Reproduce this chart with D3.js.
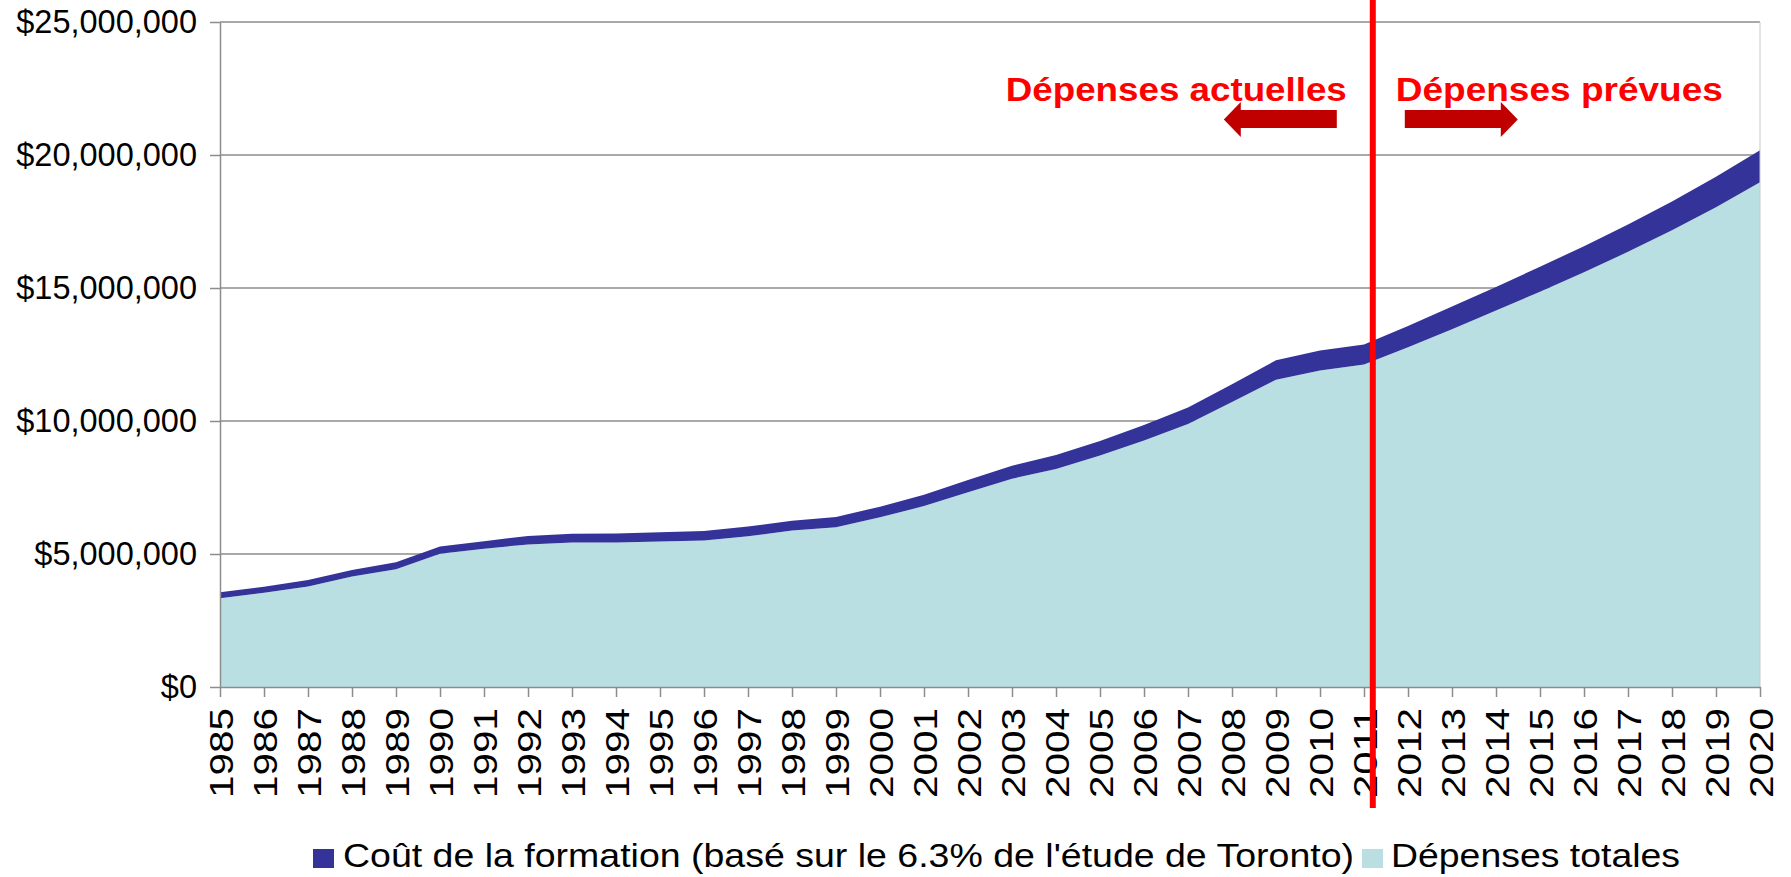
<!DOCTYPE html>
<html>
<head>
<meta charset="utf-8">
<script src="https://cdn.jsdelivr.net/npm/d3@7"></script>
<style>
  body { margin: 0; background: #fff; }
  svg { display: block; font-family: "Liberation Sans", Arial, sans-serif; }
</style>
</head>
<body>
<div id="chart"></div>
<script>
const annees = [1985, 1986, 1987, 1988, 1989, 1990, 1991, 1992, 1993, 1994, 1995, 1996,
  1997, 1998, 1999, 2000, 2001, 2002, 2003, 2004, 2005, 2006, 2007, 2008, 2009, 2010,
  2011, 2012, 2013, 2014, 2015, 2016, 2017, 2018, 2019, 2020];

const depensesTotales = [3340000, 3540000, 3780000, 4150000, 4430000, 5010000, 5200000,
  5360000, 5430000, 5430000, 5470000, 5510000, 5670000, 5880000, 6010000, 6380000,
  6800000, 7320000, 7830000, 8200000, 8700000, 9270000, 9890000, 10710000, 11550000,
  11900000, 12120000, 12770000, 13450000, 14150000, 14860000, 15590000, 16360000,
  17170000, 18040000, 18980000];

const coutFormation = [220000, 230000, 240000, 250000, 260000, 270000, 280000, 320000,
  330000, 340000, 350000, 350000, 360000, 370000, 380000, 400000, 430000, 460000,
  490000, 520000, 550000, 580000, 620000, 670000, 730000, 750000, 760000, 800000,
  850000, 890000, 940000, 980000, 1030000, 1080000, 1140000, 1200000];

const yTicks = [0, 5000000, 10000000, 15000000, 20000000, 25000000];

const series = ["Coût de la formation (basé sur le 6.3% de l'étude de Toronto)", "Dépenses totales"];
const annotations = ["Dépenses actuelles", "Dépenses prévues"];
const anneeCoupure = 2011.2;

var W = 1791, H = 877;
var margin = { left: 220, right: 1760, top: 22, bottom: 687 };

const data = annees.map((a, i) => ({
  annee: a,
  total: depensesTotales[i],
  cout: coutFormation[i]
}));

var x = d3.scaleLinear().domain([1985, 2020]).range([margin.left, margin.right]);
var y = d3.scaleLinear().domain([0, 25000000]).range([margin.bottom, margin.top]);

var svg = d3.select("#chart").append("svg")
  .attr("width", W)
  .attr("height", H);

// grid
svg.append("g")
  .selectAll("line")
  .data(yTicks.filter((d) => d > 0))
  .enter()
  .append("line")
  .attr("x1", margin.left)
  .attr("x2", margin.right)
  .attr("y1", (d) => y(d))
  .attr("y2", (d) => y(d))
  .attr("stroke", "#8c8c8c")
  .attr("stroke-width", 1.5);

// areas
var areaTotal = d3.area()
  .x((d) => x(d.annee))
  .y0(y(0))
  .y1((d) => y(d.total));

var areaCout = d3.area()
  .x((d) => x(d.annee))
  .y0((d) => y(d.total))
  .y1((d) => y(d.total + d.cout));

svg.append("path")
  .datum(data)
  .attr("fill", "#badfe3")
  .attr("d", areaTotal);

svg.append("path")
  .datum(data)
  .attr("fill", "#343399")
  .attr("d", areaCout);

// right border
svg.append("line")
  .attr("x1", margin.right).attr("x2", margin.right)
  .attr("y1", margin.top).attr("y2", margin.bottom)
  .attr("stroke", "#c8c8c8")
  .attr("stroke-width", 1);

// y axis
var yAxis = svg.append("g")
  .attr("transform", `translate(${margin.left},0)`)
  .call(d3.axisLeft(y).tickValues(yTicks).tickFormat(d3.format("$,.0f")).tickSizeInner(10).tickSizeOuter(0).tickPadding(13));
yAxis.select(".domain").attr("stroke", "#8c8c8c").attr("stroke-width", 1.5);
yAxis.selectAll(".tick line").attr("stroke", "#8c8c8c").attr("stroke-width", 1.5);
yAxis.selectAll("text")
  .attr("fill", "#000")
  .style("font-size", "32.5px")
  .style("font-family", "'Liberation Sans', Arial, sans-serif");

// x axis
var xAxis = svg.append("g")
  .attr("transform", `translate(0,${margin.bottom})`)
  .call(d3.axisBottom(x).tickValues(annees).tickFormat(d3.format("d")).tickSizeInner(10).tickSizeOuter(0));
xAxis.select(".domain").attr("stroke", "#8c8c8c").attr("stroke-width", 1.5);
xAxis.selectAll(".tick line").attr("stroke", "#8c8c8c").attr("stroke-width", 1.5);
xAxis.selectAll("text")
  .attr("fill", "#000")
  .attr("transform", "rotate(-90)")
  .attr("x", -21)
  .attr("y", 0)
  .attr("dy", "0.36em")
  .attr("textLength", 90)
  .attr("lengthAdjust", "spacingAndGlyphs")
  .style("text-anchor", "end")
  .style("font-size", "34px")
  .style("font-family", "'Liberation Sans', Arial, sans-serif");

// red separator
var xc = x(anneeCoupure);
svg.append("line")
  .attr("x1", xc).attr("x2", xc)
  .attr("y1", 0).attr("y2", 808)
  .attr("stroke", "#ff0000")
  .attr("stroke-width", 6);

// annotations
svg.append("text")
  .attr("x", xc - 26)
  .attr("y", 101)
  .attr("text-anchor", "end")
  .attr("fill", "#ff0000")
  .attr("font-weight", "bold")
  .attr("textLength", 341)
  .attr("lengthAdjust", "spacingAndGlyphs")
  .style("font-size", "33px")
  .text(annotations[0]);

svg.append("text")
  .attr("x", xc + 23)
  .attr("y", 101)
  .attr("text-anchor", "start")
  .attr("fill", "#ff0000")
  .attr("font-weight", "bold")
  .attr("textLength", 327)
  .attr("lengthAdjust", "spacingAndGlyphs")
  .style("font-size", "33px")
  .text(annotations[1]);

// arrows
function arrow(x0, dir) {
  // x0: base of shaft, dir: -1 left, +1 right
  var shaft = 96, head = 17;
  var pts = [
    [x0, 110], [x0 + dir * shaft, 110], [x0 + dir * shaft, 102],
    [x0 + dir * (shaft + head), 119.5],
    [x0 + dir * shaft, 137], [x0 + dir * shaft, 128], [x0, 128]
  ];
  svg.append("path")
    .attr("d", d3.line()(pts) + "Z")
    .attr("fill", "#c00000");
}
arrow(xc - 36, -1);
arrow(xc + 32, 1);

// legend
var legend = svg.append("g");
legend.append("rect")
  .attr("x", 313).attr("y", 849)
  .attr("width", 21).attr("height", 19)
  .attr("fill", "#343399");
legend.append("text")
  .attr("x", 343).attr("y", 867)
  .attr("textLength", 1011)
  .attr("lengthAdjust", "spacingAndGlyphs")
  .style("font-size", "34px")
  .text(series[0]);
legend.append("rect")
  .attr("x", 1362).attr("y", 849)
  .attr("width", 21).attr("height", 19)
  .attr("fill", "#badfe3");
legend.append("text")
  .attr("x", 1391).attr("y", 867)
  .attr("textLength", 289)
  .attr("lengthAdjust", "spacingAndGlyphs")
  .style("font-size", "34px")
  .text(series[1]);
</script>
</body>
</html>
